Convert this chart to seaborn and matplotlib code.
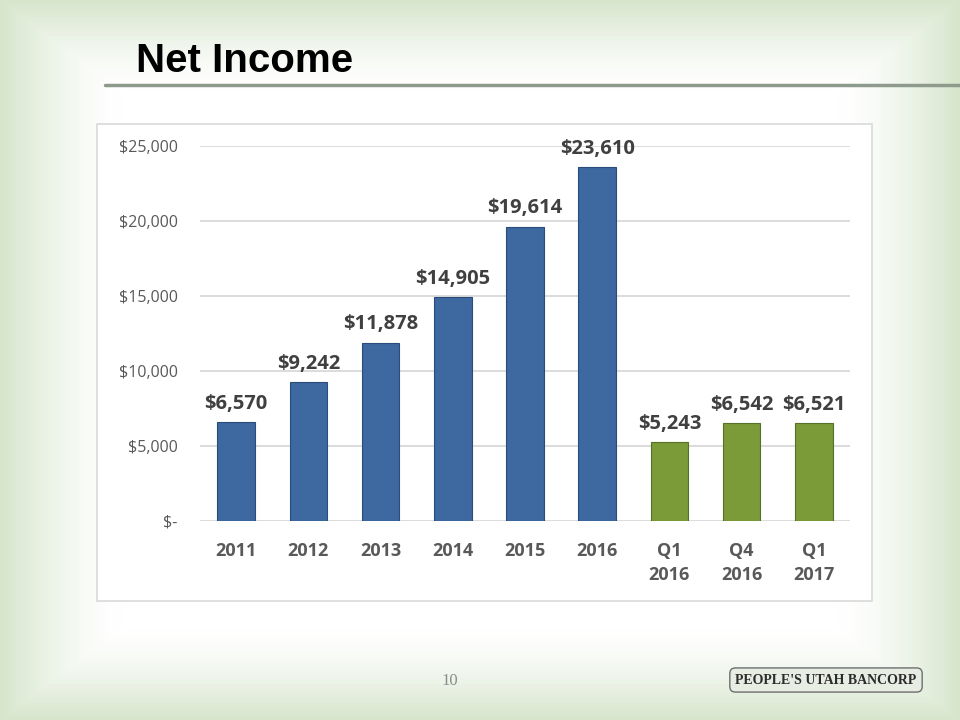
import numpy as np
import matplotlib
matplotlib.use("Agg")
import matplotlib.pyplot as plt
import matplotlib.ticker as mticker
from matplotlib.patches import Rectangle
import seaborn as sns

# data (thousands of dollars)
periods = ["2011", "2012", "2013", "2014", "2015", "2016", "Q1\n2016", "Q4\n2016", "Q1\n2017"]
net_income = [6570, 9242, 11878, 14905, 19614, 23610, 5243, 6542, 6521]
period_type = ["Annual"] * 6 + ["Quarter"] * 3
bar_colors = {"Annual": "#3D68A0", "Quarter": "#7B9B38"}

sns.set_theme(style="white")
plt.rcParams["font.family"] = ["Open Sans", "DejaVu Sans"]

fig = plt.figure(figsize=(9.6, 7.2), dpi=100)

# slide background: white centre fading to pale green at the edges
bg = fig.add_axes([0, 0, 1, 1], zorder=-10)
yy, xx = np.mgrid[0:1:200j, 0:1:260j]
d = np.maximum(np.abs(xx - 0.5) / 0.5, np.abs(yy - 0.5) / 0.5)
t = np.clip((d - 0.75) / 0.25, 0, 1) ** 1.5
white = np.array([1.0, 1.0, 1.0])
green = np.array([0.84, 0.90, 0.80])
img = white[None, None, :] * (1 - t[..., None]) + green[None, None, :] * t[..., None]
bg.imshow(img, extent=[0, 1, 0, 1], aspect="auto", origin="lower")
bg.set_xlim(0, 1)
bg.set_ylim(0, 1)
bg.axis("off")

# title and rule
fig.text(136 / 960, 1 - 61 / 720, "Net Income", fontsize=29, fontweight="bold",
         family=["Liberation Sans", "DejaVu Sans"],
         color="black", va="center", ha="left")
fig.add_artist(plt.Line2D([105 / 960, 1.0], [1 - 85 / 720, 1 - 85 / 720],
                          color="#8E9A8C", lw=2.5, transform=fig.transFigure))

# white chart frame
fig.add_artist(Rectangle((97 / 960, 1 - 601 / 720), 775 / 960, 477 / 720,
                         transform=fig.transFigure, facecolor="white",
                         edgecolor="#D9D9D9", lw=1.2, zorder=0))

ax = fig.add_axes([200 / 960, 199 / 720, 650 / 960, 375 / 720], zorder=2)
ax.patch.set_alpha(0)
sns.barplot(x=periods, y=net_income, hue=period_type, palette=bar_colors,
            saturation=1, dodge=False, width=0.52, legend=False, ax=ax,
            linewidth=0.8, zorder=3)
for bar, kind in zip(ax.patches, period_type):
    bar.set_edgecolor("#2A4C78" if kind == "Annual" else "#56702A")

for i, v in enumerate(net_income):
    ax.annotate(f"${v:,}", (i, v), xytext=(0, 6), textcoords="offset points",
                ha="center", va="bottom", fontsize=14.5, fontweight="bold",
                color="#404040", annotation_clip=False)

ax.set_ylim(0, 25000)
ax.set_yticks(range(0, 25001, 5000))
ax.yaxis.set_major_formatter(mticker.FuncFormatter(
    lambda v, p: "$-" if v == 0 else f"${v:,.0f}"))
ax.grid(axis="y", color="#D9D9D9", lw=1.3, zorder=0)
ax.set_axisbelow(True)
for s in ax.spines.values():
    s.set_visible(False)
ax.tick_params(axis="y", length=0, pad=16, labelsize=11.5, labelcolor="#595959")
ax.tick_params(axis="x", length=0, pad=15, labelsize=13, labelcolor="#595959")
for lab in ax.get_xticklabels():
    lab.set_fontweight("bold")
    lab.set_linespacing(1.45)
ax.set_xlabel("")
ax.set_ylabel("")

# footer
fig.text(450 / 960, 1 - 681 / 720, "10", fontsize=12, color="#8C8C8C",
         family=["Liberation Serif", "DejaVu Serif"], ha="center", va="center")
fig.text(826 / 960, 1 - 680 / 720, "PEOPLE'S UTAH BANCORP", fontsize=10,
         fontweight="bold", color="#2B2B2B",
         family=["Liberation Serif", "DejaVu Serif"], ha="center", va="center",
         bbox=dict(boxstyle="round,pad=0.4", facecolor="#E8EDE4",
                   edgecolor="#6E6E6E", lw=1))

fig.savefig("out.png", dpi=100)
